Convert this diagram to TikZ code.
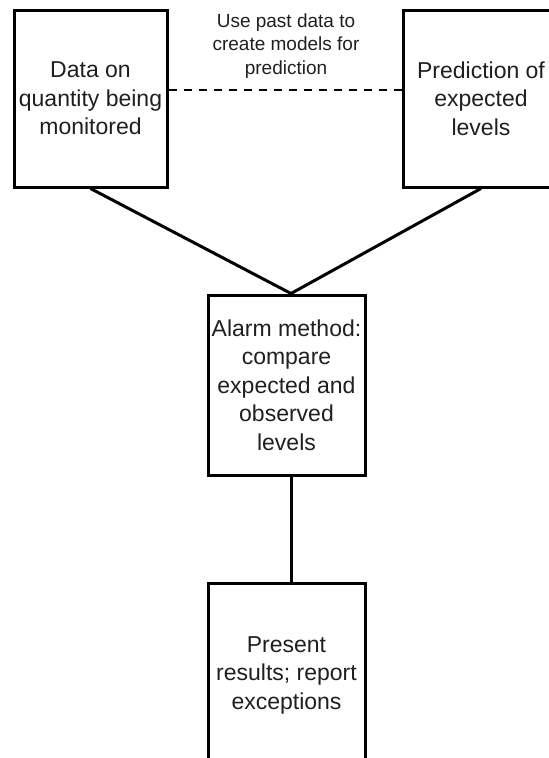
\documentclass[tikz,border=0pt]{standalone}
\usepackage{fontspec}
\setmainfont{Liberation Sans}
\begin{document}
\begin{tikzpicture}[x=1pt,y=-1pt,
  boxnode/.style={draw=black,line width=3pt,rectangle,inner sep=0pt,align=center,
    font=\fontsize{23}{28.5}\selectfont,text=black!88},
  link/.style={line width=3pt,black},
  dashlink/.style={line width=2pt,black,dash pattern=on 8pt off 7pt}]
\useasboundingbox (0,0) rectangle (549,758);
\clip (0,0) rectangle (549,758);
\node[boxnode,minimum width=153pt,minimum height=177pt] (b1) at (90.5,98.5) {Data on\\quantity being\\monitored};
\node[boxnode,minimum width=156pt,minimum height=177pt] (b2) at (481,98.5) {Prediction of\\expected\\levels};
\node[boxnode,minimum width=157pt,minimum height=180pt] (b3) at (286.5,385) {Alarm method:\\compare\\expected and\\observed\\levels};
\node[boxnode,minimum width=157pt,minimum height=184pt] (b4) at (286.5,675) {Present\\results; report\\exceptions};
\node[align=center,font=\fontsize{19}{23.5}\selectfont,text=black!88,inner sep=0pt] (lbl) at (286,46) {Use past data to\\create models for\\prediction};
\draw[dashlink] ([yshift=8.5pt]b1.east) -- ([yshift=8.5pt]b2.west);
\draw[link] (b1.south) -- ([xshift=4.5pt]b3.north) -- (b2.south);
\draw[link] ([xshift=4.5pt]b3.south) -- ([xshift=4.5pt]b4.north);
\end{tikzpicture}
\end{document}
